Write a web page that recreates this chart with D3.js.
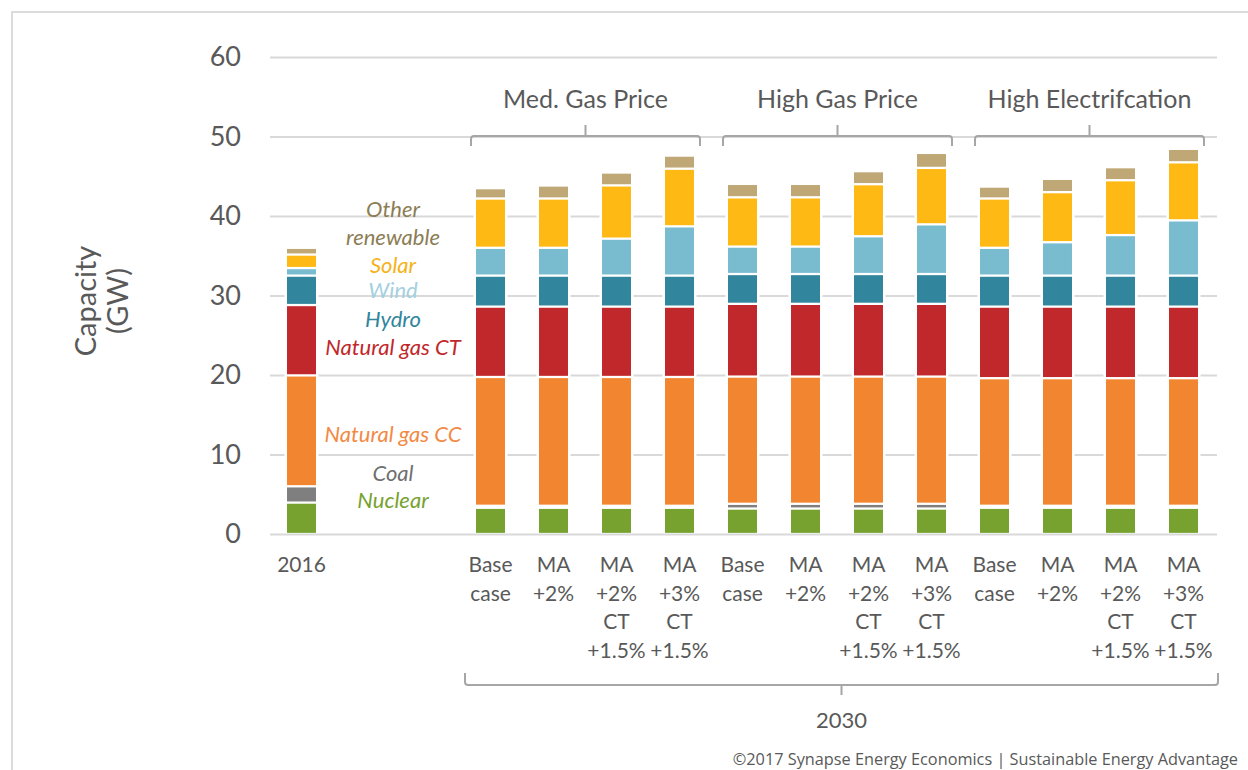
<!DOCTYPE html>
<html>
<head>
<meta charset="utf-8">
<script src="https://cdn.jsdelivr.net/npm/d3@7"></script>
<style>
  body { margin: 0; background: #fff; }
  svg { display: block; }
</style>
</head>
<body>
<div id="chart"></div>
<script>
const width = 1248, height = 770;
const font = "Lato, 'Open Sans', sans-serif";
const textGrey = "#595959";

// --- data ---
const seriesNames = ["Nuclear", "Coal", "Natural gas CC", "Natural gas CT", "Hydro", "Wind", "Solar", "Other renewable"];
const seriesColors = ["#77a22f", "#7f7f7f", "#f28630", "#c0282c", "#31859c", "#79bcd0", "#ffb915", "#bfa876"];

// bar order: 2016, then Med gas (4), High gas (4), High electrification (4)
const barIds = ["2016",
  "med_base", "med_ma2", "med_ma2ct", "med_ma3ct",
  "high_base", "high_ma2", "high_ma2ct", "high_ma3ct",
  "elec_base", "elec_ma2", "elec_ma2ct", "elec_ma3ct"];
const slots = ["2016", "gap1", "gap2"].concat(barIds.slice(1));

const scenarioLabels = [["Base", "case"], ["MA", "+2%"], ["MA", "+2%", "CT", "+1.5%"], ["MA", "+3%", "CT", "+1.5%"]];
const barLabels = [["2016"]].concat(scenarioLabels, scenarioLabels, scenarioLabels);

const groupNames = ["Med. Gas Price", "High Gas Price", "High Electrifcation"];
const yTicks = [0, 10, 20, 30, 40, 50, 60];

const nuclear   = [3.95, 3.3, 3.3, 3.3, 3.3,   3.2, 3.2, 3.2, 3.2,   3.3, 3.3, 3.3, 3.3];
const coal      = [2.05, 0.25, 0.25, 0.25, 0.25, 0.6, 0.6, 0.6, 0.6, 0.25, 0.25, 0.25, 0.25];
const gasCC     = [13.95, 16.2, 16.2, 16.2, 16.2, 16.0, 16.0, 16.0, 16.0, 16.05, 16.05, 16.05, 16.05];
const gasCT     = [8.85, 8.85, 8.85, 8.85, 8.85, 9.15, 9.15, 9.15, 9.15, 9.0, 9.0, 9.0, 9.0];
const hydro     = [3.7, 3.9, 3.9, 3.9, 3.9,   3.75, 3.75, 3.75, 3.75, 3.9, 3.9, 3.9, 3.9];
const wind      = [0.95, 3.5, 3.5, 4.65, 6.2, 3.45, 3.45, 4.75, 6.25, 3.5, 4.2, 5.1, 6.95];
const solar     = [1.7, 6.2, 6.2, 6.7, 7.25,  6.2, 6.2, 6.55, 7.1,   6.2, 6.3, 6.9, 7.3];
const otherRe   = [0.85, 1.3, 1.64, 1.62, 1.65, 1.69, 1.69, 1.64, 1.89, 1.5, 1.67, 1.64, 1.7];

const seriesValues = [nuclear, coal, gasCC, gasCT, hydro, wind, solar, otherRe];

// legend labels to the left of the 2030 bars
const legendText = ["Other", "renewable", "Solar", "Wind", "Hydro", "Natural gas CT", "Natural gas CC", "Coal", "Nuclear"];
const legendColors = ["#8c7d55", "#8c7d55", "#f5b21a", "#a3d0e0", "#31859c", "#c0282c", "#f28a45", "#6f6f6f", "#77a22f"];
const legendBaselines = [217, 245, 273, 298, 327, 355, 442, 481, 508];

// --- table for d3.stack ---
const table = barIds.map((id, i) => {
  const row = { id: id };
  seriesNames.forEach((s, j) => row[s] = seriesValues[j][i]);
  return row;
});
const stacked = d3.stack().keys(seriesNames)(table);

const svg = d3.select("#chart").append("svg")
  .attr("width", width)
  .attr("height", height);

// frame
svg.append("path")
  .attr("d", `M12,${height} L12,12 L${width},12`)
  .attr("fill", "none")
  .attr("stroke", "#dcdcdc")
  .attr("stroke-width", 2);

const x = d3.scaleBand()
  .domain(slots)
  .range([270, 1215])
  .paddingInner(0.54)
  .paddingOuter(0.27);

const y = d3.scaleLinear()
  .domain([0, 60])
  .range([534, 57]);

// y axis with gridlines
const yAxis = g => g
  .attr("transform", `translate(270,0)`)
  .call(d3.axisLeft(y).tickValues(yTicks).tickSize(-947).tickPadding(29))
  .call(g => g.select(".domain").remove())
  .call(g => g.selectAll(".tick line").attr("stroke", "#d9d9d9").attr("stroke-width", 2))
  .call(g => g.selectAll(".tick text")
    .attr("fill", textGrey)
    .attr("font-family", font)
    .attr("font-size", 27));

svg.append("g").call(yAxis);

// y title
const yTitle = svg.append("text")
  .attr("transform", "translate(0,301) rotate(-90)")
  .attr("text-anchor", "middle")
  .attr("fill", textGrey)
  .attr("font-family", font)
  .attr("font-size", 29);
yTitle.append("tspan").attr("x", 0).attr("y", 96).text("Capacity");
yTitle.append("tspan").attr("x", 0).attr("y", 128).text("(GW)");

// bars: white halo behind each bar, then segments with white gaps
const bw = x.bandwidth();
const gap = 1.15;

svg.append("g")
  .selectAll("rect")
  .data(table)
  .join("rect")
  .attr("x", d => x(d.id) - 2.5)
  .attr("width", bw + 5)
  .attr("y", d => y(d3.sum(seriesNames, s => d[s])) - 2)
  .attr("height", d => y(0) - 1 - y(d3.sum(seriesNames, s => d[s])) + 2)
  .attr("fill", "#fff");

svg.append("g")
  .selectAll("g")
  .data(stacked)
  .join("g")
  .attr("fill", (d, i) => seriesColors[i])
  .selectAll("rect")
  .data(d => d)
  .join("rect")
  .attr("x", d => x(d.data.id))
  .attr("width", bw)
  .attr("y", d => y(d[1]) + gap)
  .attr("height", d => Math.max(0, y(d[0]) - y(d[1]) - 2 * gap));

// legend labels
svg.append("g")
  .selectAll("text")
  .data(legendText)
  .join("text")
  .attr("x", 393)
  .attr("y", (d, i) => legendBaselines[i])
  .attr("text-anchor", "middle")
  .attr("font-family", font)
  .attr("font-style", "italic")
  .attr("font-size", 22)
  .attr("fill", (d, i) => legendColors[i])
  .text(d => d);

// category labels under bars
const catLabels = svg.append("g")
  .selectAll("text")
  .data(barIds)
  .join("text")
  .attr("text-anchor", "middle")
  .attr("font-family", font)
  .attr("font-size", 21)
  .attr("fill", textGrey);

catLabels.selectAll("tspan")
  .data((d, i) => barLabels[i].map(t => ({ t: t, id: d })))
  .join("tspan")
  .attr("x", d => x(d.id) + bw / 2)
  .attr("y", (d, i) => 572 + i * 28.5)
  .text(d => d.t);

// scenario group brackets and titles
const bracketColor = "#a6a6a6";
groupNames.forEach((name, gi) => {
  const members = barIds.slice(1 + gi * 4, 5 + gi * 4);
  const x0 = x(members[0]) - 5;
  const x1 = x(members[3]) + bw + 6;
  const xm = (x0 + x1) / 2;
  const yb = 136;
  svg.append("path")
    .attr("d", `M${x0},${yb + 10} L${x0},${yb + 3} Q${x0},${yb} ${x0 + 3},${yb} L${x1 - 3},${yb} Q${x1},${yb} ${x1},${yb + 3} L${x1},${yb + 10} M${xm},${yb} L${xm},${yb - 11}`)
    .attr("fill", "none")
    .attr("stroke", bracketColor)
    .attr("stroke-width", 2);
  svg.append("text")
    .attr("x", xm)
    .attr("y", 108)
    .attr("text-anchor", "middle")
    .attr("font-family", font)
    .attr("font-size", 25)
    .attr("fill", textGrey)
    .text(name);
});

// 2030 bracket
{
  const x0 = x(barIds[1]) - 11;
  const x1 = x(barIds[12]) + bw + 20;
  const xm = (x0 + x1) / 2;
  const yb = 685;
  svg.append("path")
    .attr("d", `M${x0},${yb - 12} L${x0},${yb - 3} Q${x0},${yb} ${x0 + 3},${yb} L${x1 - 3},${yb} Q${x1},${yb} ${x1},${yb - 3} L${x1},${yb - 12} M${xm},${yb} L${xm},${yb + 10}`)
    .attr("fill", "none")
    .attr("stroke", bracketColor)
    .attr("stroke-width", 2);
  svg.append("text")
    .attr("x", xm)
    .attr("y", 728)
    .attr("text-anchor", "middle")
    .attr("font-family", font)
    .attr("font-size", 22)
    .attr("fill", textGrey)
    .text("2030");
}

// credit line
svg.append("text")
  .attr("x", 1238)
  .attr("y", 765)
  .attr("text-anchor", "end")
  .attr("font-family", "'Open Sans', sans-serif")
  .attr("font-size", 16.3)
  .attr("fill", textGrey)
  .text("©2017 Synapse Energy Economics | Sustainable Energy Advantage");
</script>
</body>
</html>
